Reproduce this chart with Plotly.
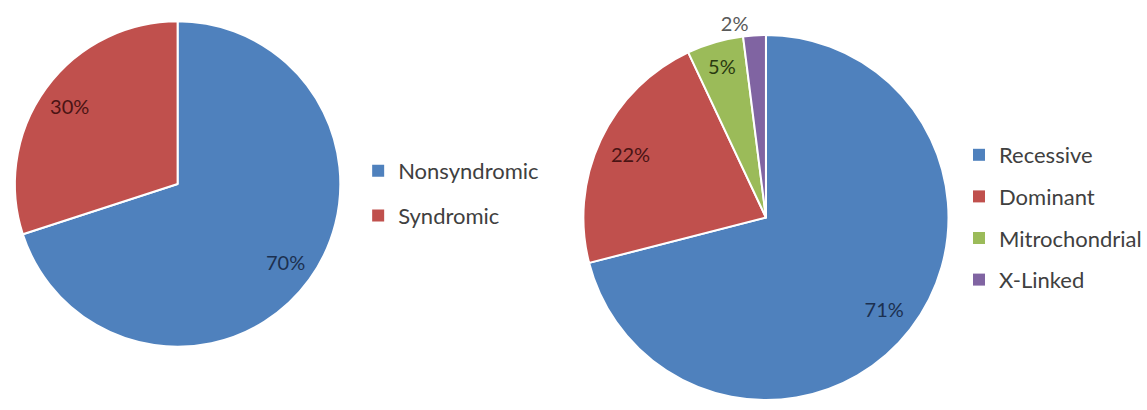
import plotly.graph_objects as go

left_labels = ["Nonsyndromic", "Syndromic"]
left_values = [70, 30]
right_labels = ["Recessive", "Dominant", "Mitrochondrial", "X-Linked"]
right_values = [71, 22, 5, 2]

left_colors = ["#4F81BD", "#C0504D"]
right_colors = ["#4F81BD", "#C0504D", "#9BBB59", "#8064A2"]
left_text_colors = ["#1c3050", "#4a1414"]
right_text_colors = ["#1c3050", "#4a1414", "#2a3a10", "#595959"]

W, H = 1147, 410
FONT = "Lato, 'Open Sans', sans-serif"
left_domain = dict(x=[15 / W, 343 / W], y=[1 - 353 / H, 1 - 15 / H])
right_domain = dict(x=[588 / W, 956 / W], y=[1 - 403 / H, 1 - 32 / H])

fig = go.Figure()

# filled pies (no text)
fig.add_trace(go.Pie(
    labels=left_labels, values=left_values, sort=False, direction="clockwise", rotation=0,
    marker=dict(colors=left_colors, line=dict(color="white", width=2)),
    textinfo="none", domain=left_domain, showlegend=False, hoverinfo="label+percent",
))
fig.add_trace(go.Pie(
    labels=right_labels, values=right_values, sort=False, direction="clockwise", rotation=0,
    marker=dict(colors=right_colors, line=dict(color="white", width=2)),
    textinfo="none", domain=right_domain, showlegend=False, hoverinfo="label+percent",
))

# transparent ring overlays carrying the percentage labels (pushes labels outward)
clear = "rgba(0,0,0,0)"
fig.add_trace(go.Pie(
    labels=left_labels, values=left_values, sort=False, direction="clockwise", rotation=0,
    hole=0.64, marker=dict(colors=[clear] * len(left_values), line=dict(width=0)),
    texttemplate="%{percent:.0%}", textposition="inside", insidetextorientation="horizontal",
    textfont=dict(color=left_text_colors, size=20, family=FONT),
    domain=left_domain, showlegend=False, hoverinfo="skip",
))
fig.add_trace(go.Pie(
    labels=right_labels, values=right_values, sort=False, direction="clockwise", rotation=0,
    hole=0.64, marker=dict(colors=[clear] * len(right_values), line=dict(width=0)),
    texttemplate="%{percent:.0%}", textposition=["inside", "inside", "inside", "outside"],
    insidetextorientation="horizontal",
    textfont=dict(color=right_text_colors, size=20, family=FONT),
    domain=right_domain, showlegend=False, hoverinfo="skip",
))

# legend entries
for lab, col in zip(left_labels, left_colors):
    fig.add_trace(go.Scatter(x=[None], y=[None], mode="markers", name=lab,
                             marker=dict(symbol="square", size=8, color=col),
                             legend="legend", legendgroup=lab))
for lab, col in zip(right_labels, right_colors):
    fig.add_trace(go.Scatter(x=[None], y=[None], mode="markers", name=lab,
                             marker=dict(symbol="square", size=8, color=col),
                             legend="legend2", legendgroup=lab))

fig.update_layout(
    width=W, height=H, margin=dict(l=0, r=0, t=0, b=0),
    paper_bgcolor="white", plot_bgcolor="white",
    xaxis=dict(visible=False), yaxis=dict(visible=False),
    font=dict(family=FONT, color="#404040", size=22),
    legend=dict(x=361 / W, y=1 - 150 / H, xanchor="left", yanchor="top",
                tracegroupgap=13, itemsizing="constant", font=dict(size=22, color="#404040"),
                bgcolor="rgba(0,0,0,0)"),
    legend2=dict(x=967 / W, y=1 - 134 / H, xanchor="left", yanchor="top",
                 tracegroupgap=10, itemsizing="constant", font=dict(size=22, color="#404040"),
                 bgcolor="rgba(0,0,0,0)"),
)

fig.write_html("out.html")
